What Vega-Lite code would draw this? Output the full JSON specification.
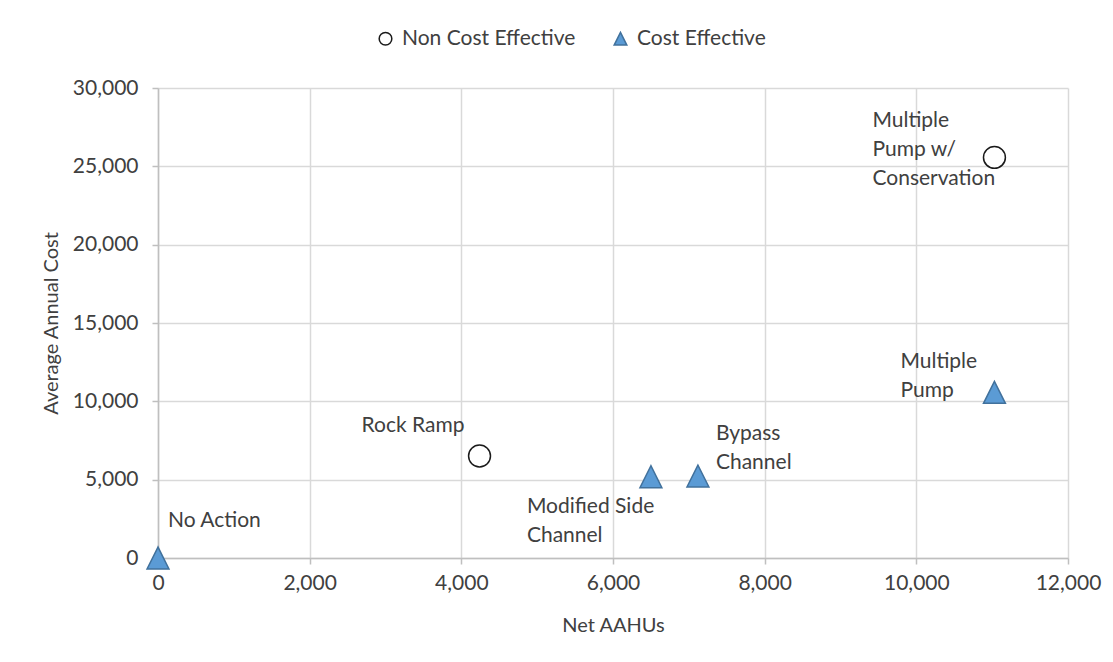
{
  "$schema": "https://vega.github.io/schema/vega-lite/v6.json",
  "autosize": {"type": "none"},
  "width": 910,
  "height": 470,
  "padding": {"left": 158, "top": 88, "right": 45, "bottom": 104},
  "background": "white",
  "config": {
    "font": "Lato",
    "view": {"stroke": null},
    "axis": {
      "gridColor": "#D9D9D9",
      "gridWidth": 1.5,
      "domainColor": "#BFBFBF",
      "domainWidth": 1.5,
      "tickColor": "#BFBFBF",
      "tickWidth": 1.5,
      "tickSize": 6,
      "labelFlush": false,
      "labelFont": "Lato",
      "labelFontSize": 21,
      "labelColor": "#404040",
      "titleFont": "Lato",
      "titleFontSize": 20,
      "titleFontWeight": "normal",
      "titleColor": "#404040"
    },
    "legend": {
      "labelFont": "Lato",
      "labelFontSize": 21,
      "labelColor": "#404040",
      "labelLimit": 0
    },
    "text": {"font": "Lato", "fontSize": 21, "color": "#404040", "lineHeight": 29, "lineBreak": "\n", "align": "left", "baseline": "top"}
  },
  "data": {
    "values": [
      {"alt": "No Action", "label": "No Action", "aahu": 0, "cost": 0, "type": "Cost Effective"},
      {"alt": "Rock Ramp", "label": "Rock Ramp", "aahu": 4240, "cost": 6510, "type": "Non Cost Effective"},
      {"alt": "Modified Side Channel", "label": "Modified Side\nChannel", "aahu": 6500, "cost": 5190, "type": "Cost Effective"},
      {"alt": "Bypass Channel", "label": "Bypass\nChannel", "aahu": 7120, "cost": 5230, "type": "Cost Effective"},
      {"alt": "Multiple Pump", "label": "Multiple\nPump", "aahu": 11030, "cost": 10570, "type": "Cost Effective"},
      {"alt": "Multiple Pump w/ Conservation", "label": "Multiple\nPump w/\nConservation", "aahu": 11030, "cost": 25570, "type": "Non Cost Effective"}
    ]
  },
  "encoding": {
    "x": {
      "field": "aahu", "type": "quantitative",
      "scale": {"domain": [0, 12000], "nice": false, "zero": false},
      "axis": {"values": [0, 2000, 4000, 6000, 8000, 10000, 12000], "format": ",.0f", "title": "Net AAHUs", "labelPadding": 8, "titlePadding": 22, "grid": true}
    },
    "y": {
      "field": "cost", "type": "quantitative",
      "scale": {"domain": [0, 30000], "nice": false, "zero": false},
      "axis": {"values": [0, 5000, 10000, 15000, 20000, 25000, 30000], "format": ",.0f", "title": "Average Annual Cost", "labelPadding": 14, "titlePadding": 11, "grid": true}
    }
  },
  "layer": [
    {
      "mark": {"type": "point", "opacity": 1, "strokeWidth": 1.5},
      "encoding": {
        "shape": {
          "field": "type", "type": "nominal",
          "scale": {"domain": ["Non Cost Effective", "Cost Effective"], "range": ["circle", "M0,-1L-1,1L1,1Z"]},
          "legend": {"title": null, "orient": "none", "legendX": 217, "legendY": -60, "direction": "horizontal", "symbolSize": 160, "columnPadding": 34, "labelOffset": 6, "symbolStrokeWidth": 1.5}
        },
        "fill": {
          "field": "type", "type": "nominal",
          "scale": {"domain": ["Non Cost Effective", "Cost Effective"], "range": ["#FFFFFF", "#5B9BD5"]},
          "legend": {"title": null, "orient": "none", "legendX": 217, "legendY": -60, "direction": "horizontal", "symbolSize": 160, "columnPadding": 34, "labelOffset": 6, "symbolStrokeWidth": 1.5}
        },
        "stroke": {
          "field": "type", "type": "nominal",
          "scale": {"domain": ["Non Cost Effective", "Cost Effective"], "range": ["#1A1A1A", "#41719C"]},
          "legend": {"title": null, "orient": "none", "legendX": 217, "legendY": -60, "direction": "horizontal", "symbolSize": 160, "columnPadding": 34, "labelOffset": 6, "symbolStrokeWidth": 1.5}
        },
        "size": {"value": 480}
      }
    },
    {
      "transform": [{"filter": "datum.alt == 'No Action'"}],
      "mark": {"type": "text", "dx": 10, "dy": -48},
      "encoding": {"text": {"field": "label"}}
    },
    {
      "transform": [{"filter": "datum.alt == 'Rock Ramp'"}],
      "mark": {"type": "text", "dx": -118, "dy": -41},
      "encoding": {"text": {"field": "label"}}
    },
    {
      "transform": [{"filter": "datum.alt == 'Modified Side Channel'"}],
      "mark": {"type": "text", "dx": -124, "dy": 19},
      "encoding": {"text": {"field": "label"}}
    },
    {
      "transform": [{"filter": "datum.alt == 'Bypass Channel'"}],
      "mark": {"type": "text", "dx": 18, "dy": -53},
      "encoding": {"text": {"field": "label"}}
    },
    {
      "transform": [{"filter": "datum.alt == 'Multiple Pump'"}],
      "mark": {"type": "text", "dx": -94, "dy": -41},
      "encoding": {"text": {"field": "label"}}
    },
    {
      "transform": [{"filter": "datum.alt == 'Multiple Pump w/ Conservation'"}],
      "mark": {"type": "text", "dx": -122, "dy": -47},
      "encoding": {"text": {"field": "label"}}
    }
  ]
}
